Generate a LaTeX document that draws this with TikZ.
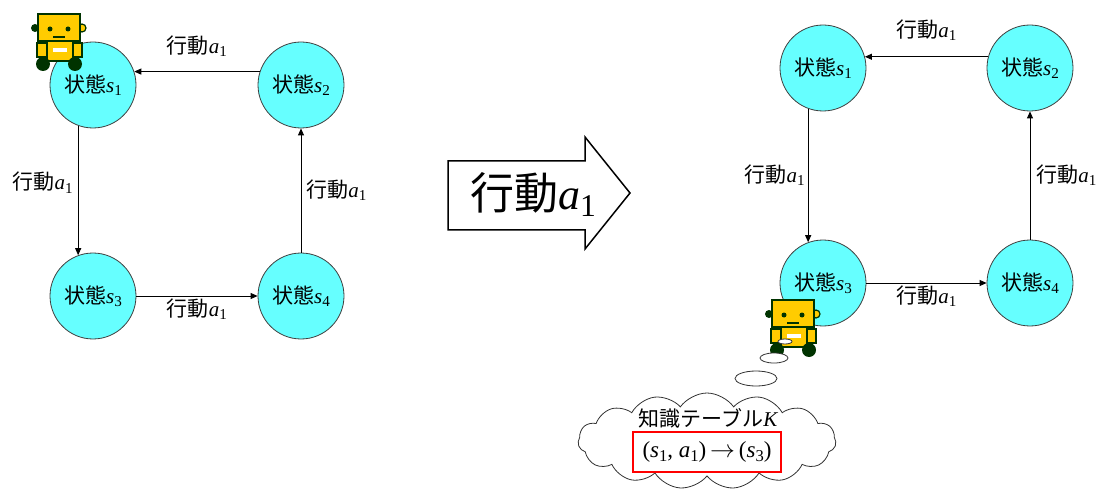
\documentclass[tikz,border=0pt]{standalone}
\usepackage{fontspec}
\usetikzlibrary{arrows.meta,positioning,shapes.symbols,shapes.geometric}
\newfontfamily\jpfont{Noto Sans CJK JP}
\newfontfamily\mathfont{Liberation Serif}
\definecolor{statecyan}{HTML}{66FFFF}
\definecolor{robotyellow}{HTML}{FFCC00}
\definecolor{robotgreen}{HTML}{003300}
% italic letter with a small index, e.g. s_1
\newcommand{\ivar}[2]{{\mathfont\itshape #1}\raisebox{-0.35ex}{\mathfont\scalebox{0.72}{#2}}}
\newcommand{\actA}{{\jpfont 行動}\ivar{a}{1}}
\newcommand{\jstate}[1]{{\jpfont 状態}\ivar{s}{#1}}

\begin{document}
\begin{tikzpicture}[x=1pt,y=-1pt,
    every node/.style={font=\fontsize{21pt}{24pt}\selectfont},
    state/.style={circle,draw=black!75,fill=statecyan,line width=0.8pt,minimum size=86pt,inner sep=0pt},
    arr/.style={-{Triangle[length=7pt,width=6pt]},line width=0.8pt},
    lbl/.style={inner sep=0pt},
    bubble/.style={ellipse,draw=black!80,fill=white,line width=0.8pt,inner sep=0pt},
    part/.style={fill=robotyellow,draw=robotgreen,line width=1.2pt},
    robot/.pic={
      \fill[robotgreen] (-3,14) circle (4pt);
      \draw[part] (44,14) circle (4pt);
      \draw[part] (-1,29) rectangle (9,43);
      \draw[part] (35,29) rectangle (44,43);
      \draw[part] (9,27) rectangle (35,47);
      \draw[part] (0,0) rectangle (42,27);
      \fill[robotgreen] (12,15) circle (2.5pt) (30,15) circle (2.5pt);
      \draw[robotgreen,line width=2pt] (15,23) -- (27,23);
      \fill[white] (15,34) rectangle (29,38);
      \fill[robotgreen] (5,50) circle (7pt) (37,50) circle (7pt);
    }
]
\useasboundingbox (0,0) rectangle (1096,492);

% before: four states, robot at s1
\node[state] (ls1) at (93,85)  {\jstate{1}};
\node[state] (ls2) at (301,85) {\jstate{2}};
\node[state] (ls3) at (93,296) {\jstate{3}};
\node[state] (ls4) at (301,296) {\jstate{4}};

\draw[arr] (ls2.162) -- node[lbl,above=15pt] {\actA} (ls1.18);
\draw[arr] (ls1.-110) -- node[lbl,pos=0.44,left=5pt] {\actA} (ls3.110);
\draw[arr] (ls3) -- node[lbl,below=2pt] {\actA} (ls4);
\draw[arr] (ls4) -- node[lbl,right=5pt] {\actA} (ls2);

\pic at (38,14) {robot};

% the action
\draw[line width=1.5pt,fill=white] (448,161) -- (585,161) -- (585,137) -- (630,193)
  -- (585,249) -- (585,230) -- (448,230) -- cycle;
\node[anchor=base west,inner sep=0pt,font=\fontsize{44pt}{48pt}\selectfont] (bigact) at (470,210) {\actA};

% after: robot moved to s3
\node[state] (rs1) at (823,68)  {\jstate{1}};
\node[state] (rs2) at (1030,68) {\jstate{2}};
\node[state] (rs3) at (823,283) {\jstate{3}};
\node[state] (rs4) at (1030,283) {\jstate{4}};

\draw[arr] (rs2.165) -- node[lbl,above=16pt] {\actA} (rs1.15);
\draw[arr] (rs1.-110) -- node[lbl,left=3pt] {\actA} (rs3.110);
\draw[arr] (rs3) -- node[lbl,below=2pt] {\actA} (rs4);
\draw[arr] (rs4) -- node[lbl,right=6pt] {\actA} (rs2);

\pic at (772,300) {robot};

% thought bubbles and knowledge table
\node[bubble,minimum width=14pt,minimum height=5pt] (bub1) at (785,341.5) {};
\node[bubble,minimum width=28pt,minimum height=10pt] (bub2) at (774,358) {};
\node[bubble,minimum width=42pt,minimum height=15pt] (bub3) at (756,378.5) {};
\node[cloud,draw=black!80,fill=white,line width=0.8pt,cloud puffs=15,cloud puff arc=110,aspect=2.7,
      minimum width=258pt,minimum height=96pt,inner sep=0pt] (memo) at (707,441) {};
\node (memotitle) at (708,418) {{\jpfont 知識テーブル}{\mathfont\itshape K}};
\node[draw=red,line width=1.5pt,minimum width=148pt,minimum height=40pt,inner sep=0pt,
      font=\fontsize{23pt}{26pt}\selectfont\mathfont] (rule) at (707,452)
      {(\ivar{s}{1}, \ivar{a}{1})\,$\rightarrow$\,(\ivar{s}{3})};
\end{tikzpicture}
\end{document}
